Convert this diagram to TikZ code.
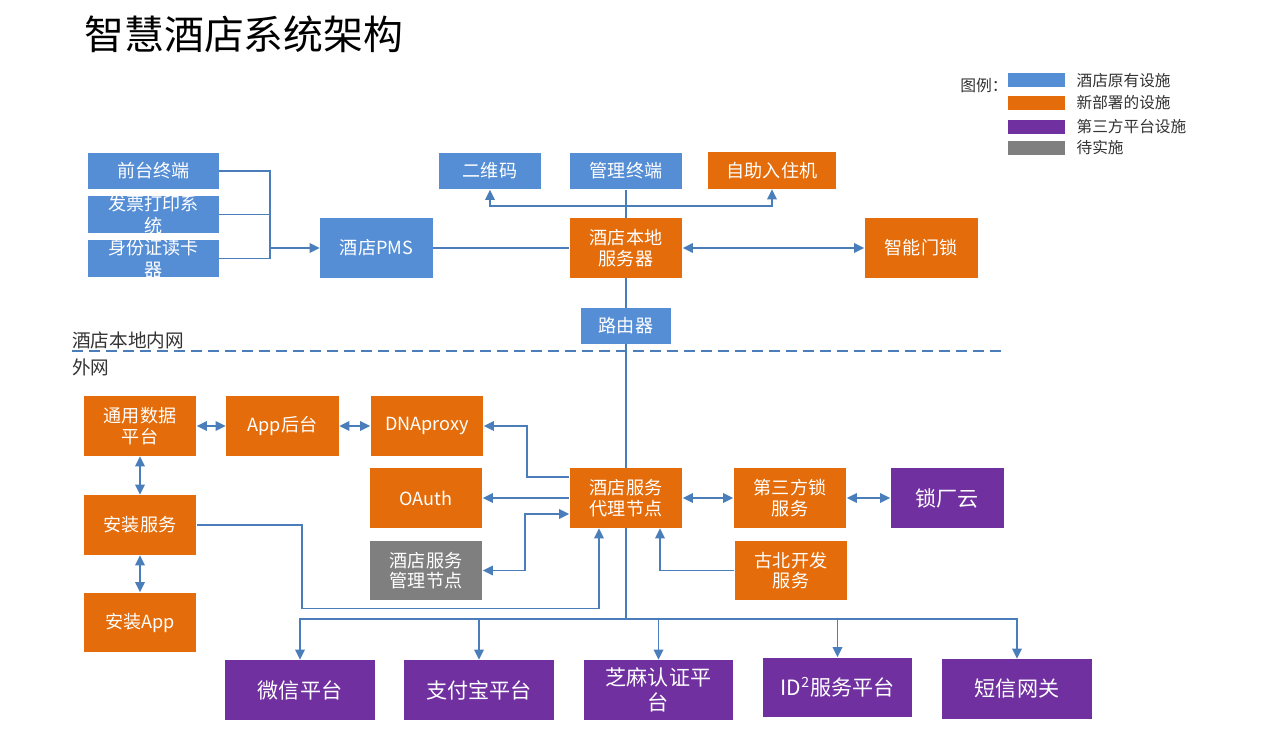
\documentclass[tikz,border=0pt]{standalone}
\usepackage{fontspec}
\setmainfont{Noto Sans CJK SC}
\usepackage{xcolor}
\usepackage{tikz}
\usetikzlibrary{positioning, arrows.meta}

\definecolor{oldblue}{RGB}{85,142,213}
\definecolor{neworange}{RGB}{228,108,10}
\definecolor{thirdpurple}{RGB}{112,48,160}
\definecolor{pendgray}{RGB}{127,127,127}
\definecolor{linkblue}{RGB}{74,126,187}

\begin{document}
\begin{tikzpicture}[x=0.02cm, y=-0.02cm, node distance=0.22cm, >={Triangle[length=0.2cm, width=0.19cm]}]
    \tikzstyle{box} = [rectangle, inner sep=0pt, text=white, align=center, minimum width=2.26cm, minimum height=1.2cm, font=\fontsize{10.3pt}{11.8pt}\selectfont]
    \tikzstyle{existing} = [box, fill=oldblue]
    \tikzstyle{newdev} = [box, fill=neworange]
    \tikzstyle{third} = [box, fill=thirdpurple, font=\fontsize{12pt}{14.6pt}\selectfont]
    \tikzstyle{pending} = [box, fill=pendgray]
    \tikzstyle{platform} = [third, minimum width=3cm]
    \tikzstyle{slim} = [minimum height=0.74cm]
    \tikzstyle{spill} = [text=white, align=center, inner sep=0pt, font=\fontsize{10.3pt}{12.6pt}\selectfont]
    \tikzstyle{link} = [draw=linkblue, line width=1.1pt]
    \tikzstyle{swatch} = [rectangle, minimum width=1.14cm, minimum height=0.28cm, inner sep=0pt]
    \tikzstyle{legendtext} = [inner sep=0pt, text=black!80, font=\fontsize{8.9pt}{10pt}\selectfont]
    \tikzstyle{zone} = [anchor=west, inner sep=0pt, text=black!80, font=\fontsize{10.6pt}{12pt}\selectfont]

    \path[fill=white, use as bounding box] (0,0) rectangle (1261,733);

    \node[anchor=west, inner sep=0pt, font=\fontsize{22.7pt}{26pt}\selectfont] (title) at (84,34) {智慧酒店系统架构};

    \node[legendtext, anchor=west, font=\fontsize{9pt}{10pt}\selectfont] (key) at (960,86) {图例：};
    \node[swatch, fill=oldblue] (L1) at (1036.5,80.5) {};
    \node[legendtext, right=of L1] (T1) {酒店原有设施};
    \node[swatch, fill=neworange] (L2) at (1036.5,102.7) {};
    \node[legendtext, right=of L2] (T2) {新部署的设施};
    \node[swatch, fill=thirdpurple] (L3) at (1036.5,126.7) {};
    \node[legendtext, right=of L3] (T3) {第三方平台设施};
    \node[swatch, fill=pendgray] (L4) at (1036.5,148) {};
    \node[legendtext, right=of L4] (T4) {待实施};

    \node[existing, slim, minimum width=2.62cm] (F1) at (153.5,171) {前台终端};
    \node[existing, slim, minimum width=2.62cm, label={[spill]center:{发票打印系\\统}}] (F2) at (153.5,214.5) {};
    \node[existing, slim, minimum width=2.62cm, label={[spill]center:{身份证读卡\\器}}] (F3) at (153.5,258.5) {};
    \node[existing] (PMS) at (376.5,248) {酒店PMS};
    \node[existing, slim, minimum width=2.04cm] (QR) at (490,171) {二维码};
    \node[existing, slim, minimum width=2.24cm] (MT) at (626,171) {管理终端};
    \node[newdev, slim, minimum width=2.58cm] (SC) at (772,170.5) {自助入住机};
    \node[newdev] (Srv) at (626,248) {酒店本地\\服务器};
    \node[newdev] (Lock) at (921,248) {智能门锁};
    \node[existing, minimum width=1.8cm, minimum height=0.72cm] (Rt) at (626,326) {路由器};

    \draw[link, dash pattern=on 0.22cm off 0.12cm] (72,351) -- (1003,351);
    \node[zone] (lan) at (72,340) {酒店本地内网};
    \node[zone] (wan) at (72,367) {外网};

    \node[newdev] (DP) at (140,426) {通用数据\\平台};
    \node[newdev] (App) at (282.5,426) {App后台};
    \node[newdev] (DNA) at (427,426) {DNAproxy};
    \node[newdev] (OA) at (426,498) {OAuth};
    \node[pending] (Mg) at (426,570.5) {酒店服务\\管理节点};
    \node[newdev] (IS) at (140,525) {安装服务};
    \node[newdev] (IA) at (140,622.5) {安装App};
    \node[newdev] (Px) at (626,498) {酒店服务\\代理节点};
    \node[newdev] (TL) at (790,498) {第三方锁\\服务};
    \node[third] (Cloud) at (947,498) {锁厂云};
    \node[newdev] (GB) at (791,570.5) {古北开发\\服务};

    \node[platform] (P1) at (300,690) {微信平台};
    \node[platform] (P2) at (479,690) {支付宝平台};
    \node[platform] (P3) at (658.5,690) {芝麻认证平\\台};
    \node[platform] (P4) at (837.5,687.5) {ID\textsuperscript{2}服务平台};
    \node[platform] (P5) at (1017,689) {短信网关};

    \coordinate (J1) at (270,248);
    \foreach \i in {1,2,3}
        \draw[link] (F\i.east) -| (J1);
    \draw[link, ->] (J1) -- (PMS.west);
    \draw[link] (PMS) -- (Srv);
    \draw[link] (MT) -- (Srv);
    \coordinate (J2) at (626,206);
    \draw[link, ->] (J2) -| (QR.south);
    \draw[link, ->] (J2) -| (SC.south);
    \draw[link, <->] (Srv) -- (Lock);
    \draw[link] (Srv) -- (Rt);
    \draw[link] (Rt) -- (Px);

    \draw[link, <->] (DP) -- (App);
    \draw[link, <->] (App) -- (DNA);
    \draw[link, <->] (DP) -- (IS);
    \draw[link, <->] (IS) -- (IA);
    \draw[link, ->] ([yshift=0.42cm]Px.west) -| ([xshift=0.86cm]DNA.east) -- (DNA.east);
    \draw[link, ->] (Px.west) -- (OA.east);
    \draw[link, <->] (Mg.east) -| ([xshift=-0.88cm, yshift=-0.32cm]Px.west) -- ([yshift=-0.32cm]Px.west);
    \coordinate (J3) at (302,608.5);
    \draw[link, ->] (IS.east) -| (J3) -| ([xshift=-0.54cm]Px.south);
    \draw[link, ->] (GB.west) -| ([xshift=0.68cm]Px.south);
    \draw[link, <->] (Px) -- (TL);
    \draw[link, <->] (TL) -- (Cloud);

    \coordinate (J4) at (626,619);
    \draw[link] (Px) -- (J4);
    \foreach \i in {1,...,5}
        \draw[link, ->] (J4) -| (P\i.north);
\end{tikzpicture}
\end{document}
